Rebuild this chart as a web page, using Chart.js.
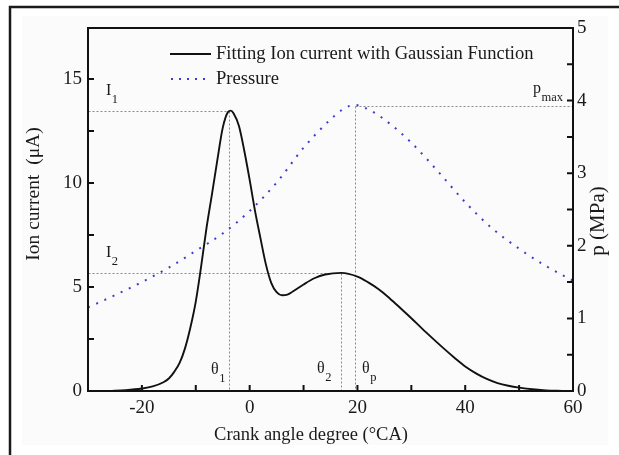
<!DOCTYPE html>
<html>
<head>
<meta charset="utf-8">
<script src="https://cdn.jsdelivr.net/npm/chart.js@4.4.1/dist/chart.umd.min.js"></script>
<style>
  html, body { margin: 0; padding: 0; background: #fff; }
  #wrap { width: 619px; height: 455px; }
</style>
</head>
<body>
<div id="wrap"><canvas id="ionChart" width="619" height="455"></canvas></div>
<script>
// crank angle (°CA) and fitted ion current (µA)
const angle = [-26, -23, -20, -18, -16, -15, -14, -13, -12, -11, -10, -9, -8, -7, -6, -5, -4, -3.5, -3, -2, -1, 0, 1, 2, 3, 4, 5, 6, 7, 8, 10, 12, 14, 17, 20, 22, 24, 26, 28, 30, 32, 34, 36, 38, 40, 42, 44, 46, 48, 50, 53, 55, 58];
const ionCurrent = [0, 0.04, 0.12, 0.22, 0.42, 0.6, 0.92, 1.35, 2.05, 3.05, 4.3, 6.0, 7.85, 9.45, 11.1, 12.65, 13.42, 13.48, 13.35, 12.75, 11.55, 10.15, 8.65, 7.35, 6.1, 5.2, 4.75, 4.6, 4.63, 4.78, 5.12, 5.42, 5.6, 5.68, 5.5, 5.22, 4.88, 4.45, 3.98, 3.5, 3.0, 2.52, 2.05, 1.6, 1.18, 0.85, 0.58, 0.38, 0.25, 0.16, 0.07, 0.03, 0];

// cylinder pressure (MPa)
const pressureAngle = [-30, -25, -20, -15, -10, -5, 0, 5, 10, 15, 17.5, 19.5, 22, 25, 30, 35, 40, 45, 50, 55, 60];
const pressure = [1.15, 1.32, 1.5, 1.7, 1.93, 2.17, 2.48, 2.87, 3.35, 3.74, 3.89, 3.94, 3.88, 3.74, 3.42, 3.02, 2.6, 2.24, 1.96, 1.72, 1.52];

// marked points: theta1, theta2, thetaP and I1, I2, pmax
const thetas = [-3.8, 17, 19.6];
const peakIon = [13.48, 5.67];
const pMax = 3.93;

const xTicks = [-20, 0, 20, 40, 60];
const ionTicks = [0, 5, 10, 15];
const pTicks = [0, 1, 2, 3, 4, 5];

const serif = "'Liberation Serif', 'Times New Roman', serif";
const blue = '#3d3dcc';

function setTicks(list) {
  return scale => { scale.ticks = list.map(v => ({ value: v })); };
}

function subText(ctx, main, sub, x, y) {
  ctx.font = '16px ' + serif;
  ctx.fillText(main, x, y);
  const w = ctx.measureText(main).width;
  ctx.font = '12.5px ' + serif;
  ctx.fillText(sub, x + w + 0.5, y + 8);
}

const decorations = {
  id: 'decorations',
  beforeDraw(chart) {
    const ctx = chart.ctx;
    ctx.save();
    ctx.fillStyle = '#fff';
    ctx.fillRect(0, 0, chart.width, chart.height);
    ctx.fillStyle = '#fbfbfb';
    ctx.fillRect(22, 16, 586, 429);
    ctx.strokeStyle = '#1a1a1a';
    ctx.lineWidth = 2.5;
    ctx.beginPath();
    ctx.moveTo(10, 455);
    ctx.lineTo(10, 7);
    ctx.lineTo(619, 7);
    ctx.stroke();
    ctx.restore();
  },
  beforeDatasetsDraw(chart) {
    const ctx = chart.ctx;
    const x = chart.scales.x, yI = chart.scales.yI, yP = chart.scales.yP;
    ctx.save();
    ctx.strokeStyle = '#8a8a8a';
    ctx.lineWidth = 1;
    ctx.setLineDash([2, 2]);
    const seg = (x1, y1, x2, y2) => {
      ctx.beginPath();
      ctx.moveTo(Math.round(x1) + 0.5, Math.round(y1) + 0.5);
      ctx.lineTo(Math.round(x2) + 0.5, Math.round(y2) + 0.5);
      ctx.stroke();
    };
    const left = chart.chartArea.left, right = chart.chartArea.right, bottom = chart.chartArea.bottom;
    seg(left, yI.getPixelForValue(peakIon[0]), x.getPixelForValue(thetas[0]), yI.getPixelForValue(peakIon[0]));
    seg(x.getPixelForValue(thetas[0]), yI.getPixelForValue(peakIon[0]), x.getPixelForValue(thetas[0]), bottom);
    seg(left, yI.getPixelForValue(peakIon[1]), x.getPixelForValue(thetas[1]), yI.getPixelForValue(peakIon[1]));
    seg(x.getPixelForValue(thetas[1]), yI.getPixelForValue(peakIon[1]), x.getPixelForValue(thetas[1]), bottom);
    seg(x.getPixelForValue(thetas[2]), yP.getPixelForValue(pMax), x.getPixelForValue(thetas[2]), bottom);
    seg(x.getPixelForValue(thetas[2]), yP.getPixelForValue(pMax), right, yP.getPixelForValue(pMax));
    ctx.restore();
  },
  afterDraw(chart) {
    const ctx = chart.ctx;
    const a = chart.chartArea;
    const x = chart.scales.x, yI = chart.scales.yI, yP = chart.scales.yP;
    ctx.save();

    // axes box
    ctx.strokeStyle = '#111';
    ctx.lineWidth = 2;
    ctx.strokeRect(a.left, a.top, a.right - a.left, a.bottom - a.top);

    // inward ticks
    ctx.beginPath();
    for (let v = -20; v <= 50; v += 10) {
      const px = x.getPixelForValue(v);
      ctx.moveTo(px, a.bottom); ctx.lineTo(px, a.bottom - 6);
    }
    for (let v = 2.5; v <= 15; v += 2.5) {
      const py = yI.getPixelForValue(v);
      ctx.moveTo(a.left, py); ctx.lineTo(a.left + 6, py);
    }
    for (let v = 0.5; v < 5; v += 0.5) {
      const py = yP.getPixelForValue(v);
      ctx.moveTo(a.right, py); ctx.lineTo(a.right - 6, py);
    }
    ctx.stroke();

    // legend
    const ds = chart.data.datasets;
    ctx.lineWidth = 1.8;
    ctx.strokeStyle = '#111';
    ctx.beginPath(); ctx.moveTo(170, 54); ctx.lineTo(211, 54); ctx.stroke();
    ctx.strokeStyle = blue;
    ctx.lineWidth = 2;
    ctx.setLineDash([2, 6]);
    ctx.beginPath(); ctx.moveTo(171, 79); ctx.lineTo(211, 79); ctx.stroke();
    ctx.setLineDash([]);
    ctx.fillStyle = '#1a1a1a';
    ctx.font = '18.6px ' + serif;
    ctx.textBaseline = 'alphabetic';
    ctx.textAlign = 'left';
    ctx.fillText(ds[0].label, 216, 59);
    ctx.fillText(ds[1].label, 216, 84);

    // marker labels
    subText(ctx, 'I', '1', 106, 95);
    subText(ctx, 'I', '2', 106, 257);
    subText(ctx, 'p', 'max', 533, 93);
    subText(ctx, 'θ', '1', 211, 374);
    subText(ctx, 'θ', '2', 317, 373);
    subText(ctx, 'θ', 'p', 362, 373);

    // axis titles
    ctx.font = '18.5px ' + serif;
    ctx.textAlign = 'center';
    ctx.fillText('Crank angle degree (°CA)', 311, 440);
    ctx.font = '19.5px ' + serif;
    ctx.translate(39, 194);
    ctx.rotate(-Math.PI / 2);
    ctx.fillText('Ion current  (μA)', 0, 0);
    ctx.setTransform(1, 0, 0, 1, 0, 0);
    ctx.font = '21px ' + serif;
    ctx.translate(604, 221);
    ctx.rotate(-Math.PI / 2);
    ctx.fillText('p (MPa)', 0, 0);
    ctx.restore();
  }
};

const tickFont = { family: serif, size: 19 };

new Chart(document.getElementById('ionChart'), {
  type: 'line',
  data: {
    datasets: [{
      label: 'Fitting Ion current with Gaussian Function',
      data: angle.map((a, i) => ({ x: a, y: ionCurrent[i] })),
      yAxisID: 'yI',
      borderColor: '#111',
      borderWidth: 1.9,
      pointRadius: 0,
      cubicInterpolationMode: 'monotone',
      fill: false
    }, {
      label: 'Pressure',
      data: pressureAngle.map((a, i) => ({ x: a, y: pressure[i] })),
      yAxisID: 'yP',
      borderColor: blue,
      borderWidth: 2,
      borderDash: [2, 7],
      pointRadius: 0,
      cubicInterpolationMode: 'monotone',
      fill: false
    }]
  },
  options: {
    responsive: false,
    animation: false,
    layout: { padding: { top: 28, left: 0, right: 0, bottom: 0 } },
    plugins: { legend: { display: false }, tooltip: { enabled: false } },
    scales: {
      x: {
        type: 'linear', min: -30, max: 60,
        grid: { display: false, drawTicks: false },
        border: { display: false },
        afterBuildTicks: setTicks(xTicks),
        afterFit: s => { s.height = 64; },
        ticks: { font: tickFont, color: '#1a1a1a', padding: 6, maxRotation: 0, autoSkip: false }
      },
      yI: {
        type: 'linear', position: 'left', min: 0, max: 17.45,
        grid: { display: false, drawTicks: false },
        border: { display: false },
        afterBuildTicks: setTicks(ionTicks),
        afterFit: s => { s.width = 88; },
        ticks: { font: tickFont, color: '#1a1a1a', padding: 6 }
      },
      yP: {
        type: 'linear', position: 'right', min: 0, max: 5,
        grid: { display: false, drawTicks: false },
        border: { display: false },
        afterBuildTicks: setTicks(pTicks),
        afterFit: s => { s.width = 46; },
        ticks: { font: tickFont, color: '#1a1a1a', padding: 4 }
      }
    }
  },
  plugins: [decorations]
});
</script>
</body>
</html>
